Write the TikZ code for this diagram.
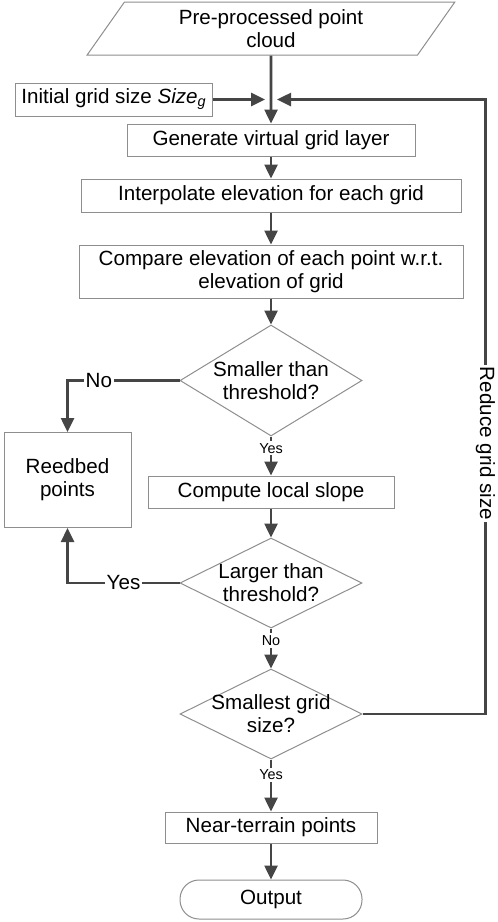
\documentclass[tikz,border=0pt]{standalone}
\usepackage{fontspec}
\setmainfont{Liberation Sans}
\usepackage{tikz}
\usetikzlibrary{arrows.meta, positioning, shapes.geometric, calc}

\definecolor{boxline}{HTML}{8E8E8E}
\definecolor{arrline}{HTML}{454545}

\begin{document}
\begin{tikzpicture}[
      x=0.5pt, y=-0.5pt,
      every node/.style={font=\fontsize{10.3}{11.6}\selectfont},
      block/.style={rectangle, draw=boxline, line width=0.5pt,
                    align=center, fill=white, inner sep=1pt},
      iobox/.style={trapezium, trapezium left angle=64, trapezium right angle=116,
                    trapezium stretches=true, draw=boxline, line width=0.5pt,
                    align=center, minimum width=184pt, minimum height=26.5pt},
      decision/.style={diamond, draw=boxline, line width=0.5pt,
                    minimum width=91pt, inner sep=0pt},
      arrow/.style={-{Triangle[length=7pt, width=6.5pt]}, line width=1.3pt, arrline},
      small/.style={font=\fontsize{7.2}{8}\selectfont, fill=white, text=black, inner sep=1pt},
      tag/.style={fill=white, text=black, inner sep=1pt}
    ]
        \useasboundingbox (0,0) rectangle (498,922);
        \node[iobox] (input) at (271,28.5) {Pre-processed point\\cloud};
        \coordinate[below=22pt of input.south] (jn);
        \node[block, left=29pt of jn, minimum width=98.5pt, minimum height=16.5pt] (init) {Initial grid size \textit{Size}\textsubscript{\textit{g}}};
        \node[block, below=34pt of input, minimum width=144pt, minimum height=16pt] (gen) {Generate virtual grid layer};
        \node[block, below=11pt of gen, minimum width=190pt, minimum height=16.5pt] (interp) {Interpolate elevation for each grid};
        \node[block, below=16pt of interp, minimum width=192pt, minimum height=26.5pt] (comp) {Compare elevation of each point w.r.t.\\elevation of grid};
        \node[decision, below=13pt of comp, minimum height=55.5pt,
              label={[align=center]center:Smaller than\\threshold?}] (small1) {};
        \node[block, below=19.5pt of small1, minimum width=123pt, minimum height=16pt] (slope) {Compute local slope};
        \node[decision, below=14.5pt of slope, minimum height=45pt,
              label={[align=center]center:Larger than\\threshold?}] (large) {};
        \node[decision, below=20pt of large, minimum height=45pt,
              label={[align=center]center:Smallest grid\\size?}] (small2) {};
        \node[block, below=26pt of small2, minimum width=106pt, minimum height=15.5pt] (near) {Near-terrain points};
        \node[block, below=18pt of near, rounded corners=9.5pt, minimum width=91pt, minimum height=19.5pt] (out) {Output};
        \node[block, left=8pt of slope, yshift=6pt, minimum width=63.5pt, minimum height=47.5pt] (reed) {Reedbed\\points};
        \draw[arrow] (input) -- (gen);
        \draw[arrow, shorten >=3pt] (init) -- (jn);
        \draw[arrow] (gen) -- (interp);
        \draw[arrow] (interp) -- (comp);
        \draw[arrow] (comp) -- (small1);
        \draw[arrow] (small1) -- node[small, pos=0.3]{Yes} (slope);
        \draw[arrow] (slope) -- (large);
        \draw[arrow] (large) -- node[small, pos=0.3]{No} (small2);
        \draw[arrow] (small2) -- node[small, pos=0.3]{Yes} (near);
        \draw[arrow] (near) -- (out);
        \draw[arrow] (small1.west) -| node[tag, pos=0.36]{No} (reed.north);
        \draw[arrow] (large.west) -| node[tag, pos=0.25]{Yes} (reed.south);
        \draw[arrow, shorten >=3pt] (small2.east) -- ++(123,0) |- node[tag, pos=0.22, rotate=-90]{Reduce grid size} (jn);
    \end{tikzpicture}
\end{document}
